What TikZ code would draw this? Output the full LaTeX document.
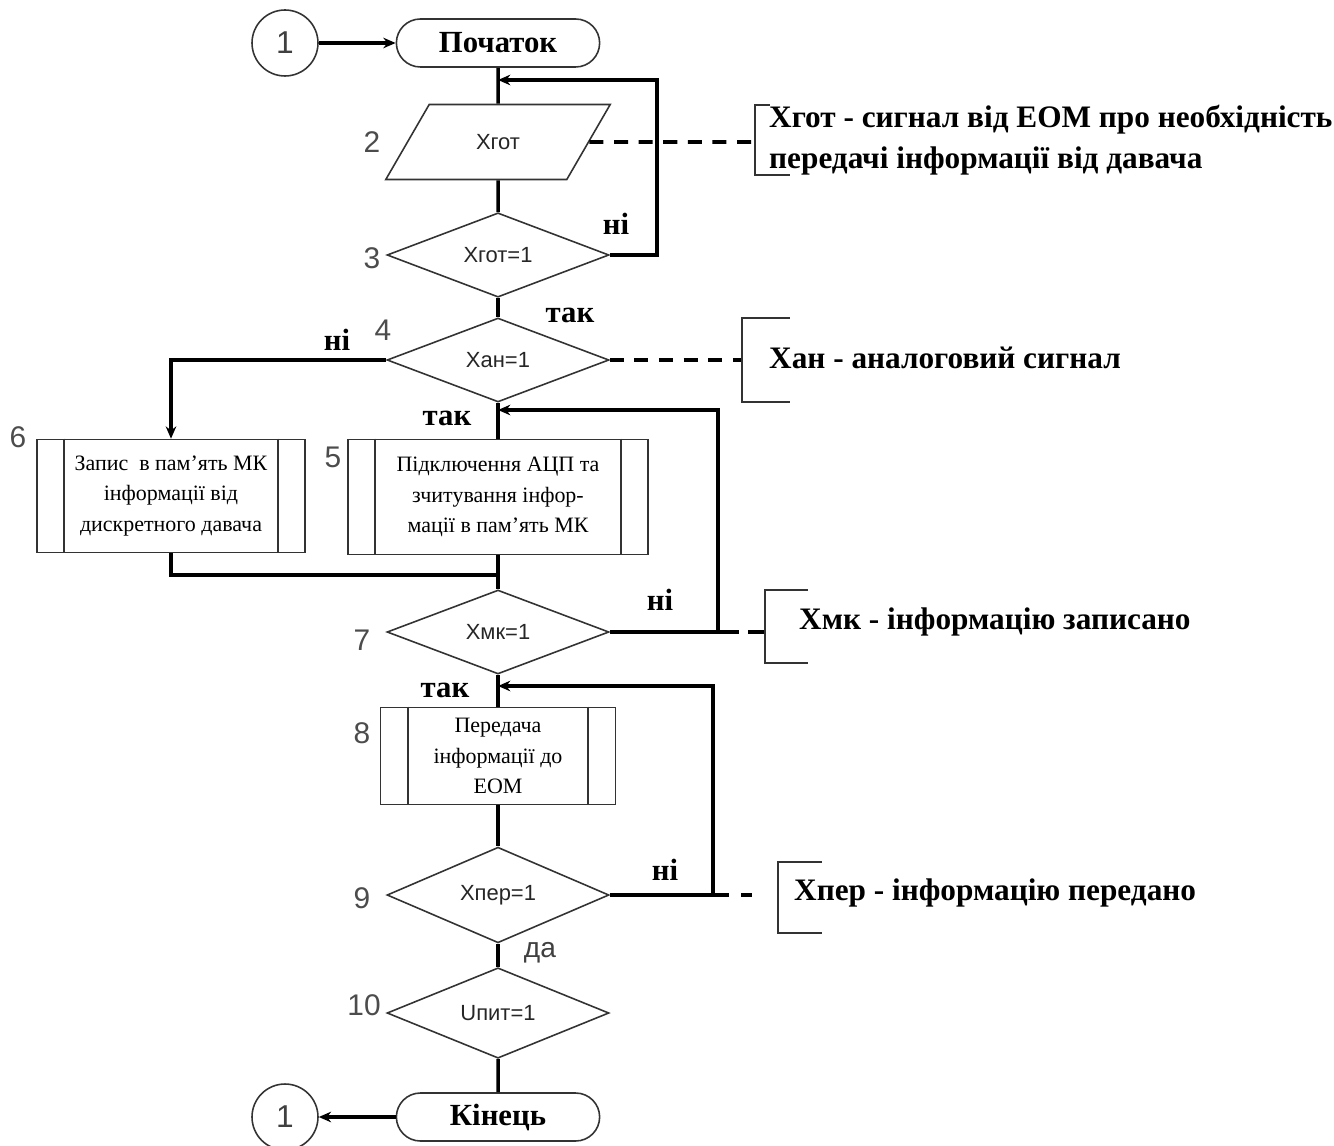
\documentclass[tikz,border=0pt]{standalone}
\usepackage{fontspec}
\setmainfont{Liberation Serif}
\newfontfamily\arialfont{Liberation Sans}
\usetikzlibrary{shapes.geometric,shapes.misc,arrows.meta,calc}

\tikzset{
  outline/.style={draw=black!80, line width=0.9pt},
  term/.style={outline, rounded rectangle, minimum width=4.3cm, minimum height=0.96cm,
    font=\fontsize{17.5}{20}\selectfont\bfseries},
  conn/.style={outline, circle, minimum size=1.32cm, inner sep=0pt,
    font=\arialfont\fontsize{18}{20}\selectfont, text=black!75},
  decide/.style={outline, diamond, minimum width=4.44cm, minimum height=1.68cm, inner sep=0pt,
    font=\arialfont\fontsize{12.5}{15}\selectfont, text=black!85},
  inbox/.style={outline, trapezium, trapezium left angle=57, trapezium right angle=123,
    trapezium stretches=true, minimum width=4.5cm, minimum height=1.5cm,
    font=\arialfont\fontsize{12.5}{15}\selectfont, text=black!85},
  procbox/.style={outline, rectangle, align=center, font=\fontsize{12.5}{17.5}\selectfont},
  flow/.style={line width=2pt},
  arr/.style={flow, -{Stealth[length=7pt,width=6pt]}},
  dashline/.style={line width=2pt, dash pattern=on 8pt off 6pt},
  bracket/.style={line width=1.1pt, draw=black!80},
  num/.style={font=\arialfont\fontsize{17}{20}\selectfont, text=black!70},
  answer/.style={font=\fontsize{17.5}{20}\selectfont\bfseries},
  note/.style={anchor=west, align=left, font=\fontsize{17.8}{23}\selectfont\bfseries}
}

\begin{document}
\begin{tikzpicture}[x=0.02cm, y=-0.02cm]
  \useasboundingbox (0,0) rectangle (1334,1145);
  \def\axis{498} % x of the main column

  % main column
  \node[conn] (c1) at (285,43) {1};
  \node[term] (start) at (\axis,43) {Початок};
  \node[inbox] (n2) at (\axis,142) {Хгот};
  \node[decide] (n3) at (\axis,255) {Хгот=1};
  \node[decide] (n4) at (\axis,360) {Хан=1};
  \node[procbox, minimum width=6cm, minimum height=2.3cm] (b5) at (\axis,497)
    {Підключення АЦП та\\зчитування інфор-\\мації в пам’ять МК};
  \node[procbox, minimum width=5.36cm, minimum height=2.26cm] (b6) at (171,496)
    {Запис\ \ в пам'ять МК\\інформації від\\дискретного давача};
  \node[decide] (n7) at (\axis,632) {Хмк=1};
  \node[procbox, minimum width=4.7cm, minimum height=1.94cm] (b8) at (\axis,756)
    {Передача\\інформації до\\ЕОМ};
  \node[decide] (n9) at (\axis,895) {Хпер=1};
  \node[decide] (n10) at (\axis,1013) {Uпит=1};
  \node[term] (stop) at (\axis,1117) {Кінець};
  \node[conn] (c2) at (285,1117) {1};

  % side bars of the process boxes
  \foreach \b in {b5,b6,b8} {
    \draw[outline] ([xshift=0.56cm]\b.north west) -- ([xshift=0.56cm]\b.south west);
    \draw[outline] ([xshift=-0.56cm]\b.north east) -- ([xshift=-0.56cm]\b.south east);
  }

  % step numbers
  \node[num] (l2) at (372,142) {2};
  \node[num] (l3) at (372,258) {3};
  \node[num] (l4) at (383,330) {4};
  \node[num] (l5) at (333,457) {5};
  \node[num] (l6) at (18,437) {6};
  \node[num] (l7) at (362,640) {7};
  \node[num] (l8) at (362,733) {8};
  \node[num] (l9) at (362,898) {9};
  \node[num] (l10) at (364,1005) {10};

  % junctions on the axis
  \coordinate (j1) at (\axis,80);
  \coordinate (j2) at (\axis,410);
  \coordinate (j3) at (\axis,575);
  \coordinate (j4) at (\axis,686);

  % flow lines
  \draw[arr] (c1) -- (start);
  \draw[flow] (start) -- (n2);
  \draw[flow] (n2) -- (n3);
  \draw[arr] (n3.east) -- ++(47,0) |- (j1);
  \draw[flow] (n3) -- (n4);
  \draw[arr] (n4.west) -| (b6.north);
  \draw[flow] (n4) -- (b5);
  \draw[flow] (b6.south) |- (j3);
  \draw[flow] (b5) -- (n7);
  \draw[arr] (n7.east) -- ++(108,0) |- (j2);
  \draw[flow] (n7.east) -- ++(129,0);
  \draw[flow] (n7) -- (b8);
  \draw[flow] (b8) -- (n9);
  \draw[arr] (n9.east) -- ++(103,0) |- (j4);
  \draw[flow] (n9.east) -- ++(119,0);
  \draw[flow] (n9) -- (n10);
  \draw[flow] (n10) -- (stop);
  \draw[arr] (stop) -- (c2);

  % answers
  \node[answer] (a3) at (616,224) {ні};
  \node[answer] (a3y) at (570,315) {так};
  \node[answer] (a4) at (337,340) {ні};
  \node[answer] (a4y) at (447,418) {так};
  \node[answer] (a7) at (660,600) {ні};
  \node[answer] (a7y) at (445,690) {так};
  \node[answer] (a9) at (665,870) {ні};
  \node[font=\arialfont\fontsize{16}{18}\selectfont, text=black!75] (a9y) at (540,953) {да};

  % comments
  \draw[dashline] (n2.east) -- (755,142);
  \draw[bracket] (770,105) -| (755,175) -- (790,175);
  \node[note] (t2) at (763,140) {Хгот - сигнал від ЕОМ про необхідність\\передачі інформації від давача};

  \draw[dashline] (n4.east) -- (742,360);
  \draw[bracket] (790,318) -| (742,402) -- (790,402);
  \node[note] (t4) at (763,358) {Хан - аналоговий сигнал};

  \draw[flow] (748,632) -- (765,632);
  \draw[bracket] (808,590) -| (765,663) -- (808,663);
  \node[note] (t7) at (793,622) {Хмк - інформацію записано};

  \draw[flow] (741,895) -- (752,895);
  \draw[bracket] (822,862) -| (778,933) -- (822,933);
  \node[note] (t9) at (788,893) {Хпер - інформацію передано};
\end{tikzpicture}
\end{document}
